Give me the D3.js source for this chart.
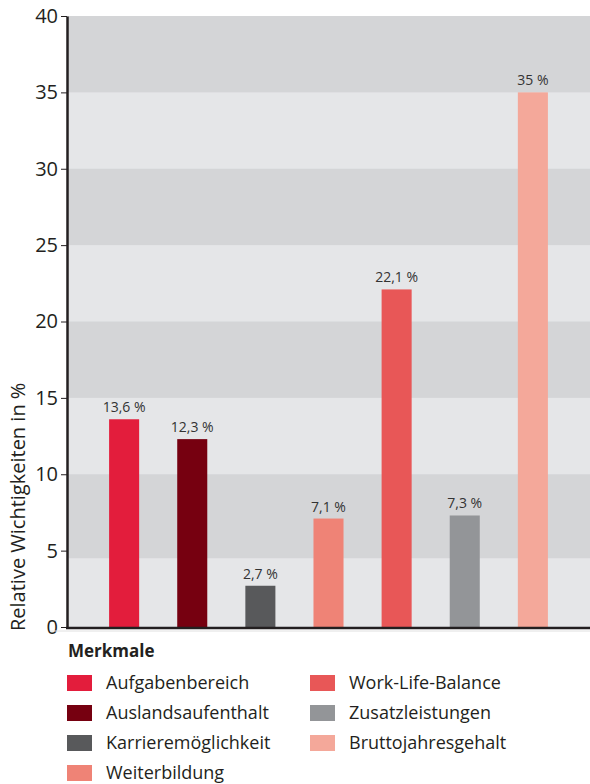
<!doctype html>
<meta charset="utf-8">
<style>
body { margin: 0; background: #fff; }
text { font-family: "Open Sans", "Noto Sans", sans-serif; fill: #231f20; }
</style>
<div id="chart"></div>
<script src="https://d3js.org/d3.v7.min.js"></script>
<script>
// data
var categories = ["Aufgabenbereich", "Auslandsaufenthalt", "Karrieremöglichkeit", "Weiterbildung",
                  "Work-Life-Balance", "Zusatzleistungen", "Bruttojahresgehalt"];
var values = [13.6, 12.3, 2.7, 7.1, 22.1, 7.3, 35];
var colors = ["#e31d3c", "#760010", "#58595b", "#ef8376", "#e85757", "#939598", "#f4a89a"];
var yTicks = [0, 5, 10, 15, 20, 25, 30, 35, 40];
// background stripes as seen in the picture (from, to)
var stripes = [[35, 40], [25, 30], [15, 20], [4.5, 10]];

var W = 590, H = 784;
var svg = d3.select("#chart").append("svg").attr("width", W).attr("height", H);

var x = d3.scaleBand()
  .domain(categories)
  .range([67, 590])
  .paddingInner(0.559)
  .paddingOuter(0.618)
  .align(0.5);

var y = d3.scaleLinear().domain([0, 40]).range([627, 16]);

// plot background
svg.append("rect")
  .attr("x", 67).attr("y", y(40))
  .attr("width", W - 67).attr("height", y(0) - y(40))
  .attr("fill", "#e5e6e8");

svg.selectAll(".stripe")
  .data(stripes)
  .enter().append("rect")
  .attr("x", 67)
  .attr("y", d => y(d[1]))
  .attr("width", W - 67)
  .attr("height", d => y(d[0]) - y(d[1]))
  .attr("fill", "#d4d5d7");

// bars
svg.selectAll(".bar")
  .data(values)
  .enter().append("rect")
  .attr("x", (d, i) => x(categories[i]))
  .attr("y", d => y(d))
  .attr("width", x.bandwidth())
  .attr("height", d => y(0) - y(d))
  .attr("fill", (d, i) => colors[i]);

var fmt = v => String(v).replace(".", ",") + " %";

svg.selectAll(".label")
  .data(values)
  .enter().append("text")
  .attr("x", (d, i) => x(categories[i]) + x.bandwidth() / 2)
  .attr("y", d => y(d) - 7)
  .attr("text-anchor", "middle")
  .style("font-size", "14px")
  .style("fill", "#333")
  .text(d => fmt(d));

// axes
var yAxis = d3.axisLeft(y).tickValues(yTicks).tickSize(6).tickSizeOuter(0).tickPadding(3);
var gy = svg.append("g").attr("transform", "translate(67,0)").call(yAxis);
gy.select(".domain").attr("stroke", "#231f20").attr("stroke-width", 2.5);
gy.selectAll(".tick line").attr("stroke", "#231f20").attr("stroke-width", 1);
gy.selectAll(".tick text").style("font-size", "20px").attr("fill", "#231f20");

svg.append("line")
  .attr("x1", 66).attr("x2", W)
  .attr("y1", y(0) + 1).attr("y2", y(0) + 1)
  .attr("stroke", "#231f20").attr("stroke-width", 2.5);
svg.append("line")
  .attr("x1", 50).attr("x2", W)
  .attr("y1", y(0) + 4).attr("y2", y(0) + 4)
  .attr("stroke", "#e0e0e0").attr("stroke-width", 1);

svg.append("text")
  .attr("transform", "translate(25,631) rotate(-90)")
  .attr("text-anchor", "start")
  .style("font-size", "20px")
  .text("Relative Wichtigkeiten in %");

// legend
svg.append("text")
  .attr("x", 68).attr("y", 657)
  .style("font-size", "17px")
  .style("font-weight", "bold")
  .text("Merkmale");

var leg = svg.selectAll(".leg")
  .data(categories)
  .enter().append("g")
  .attr("transform", (d, i) => {
    var col = i < 4 ? 0 : 1, row = i < 4 ? i : i - 4;
    return "translate(" + (col ? 310 : 67) + "," + (675 + row * 30) + ")";
  });
leg.append("rect")
  .attr("width", 25).attr("height", 16)
  .attr("fill", (d, i) => colors[i]);
leg.append("text")
  .attr("x", 39).attr("y", 14)
  .style("font-size", "18px")
  .text(d => d);
</script>
